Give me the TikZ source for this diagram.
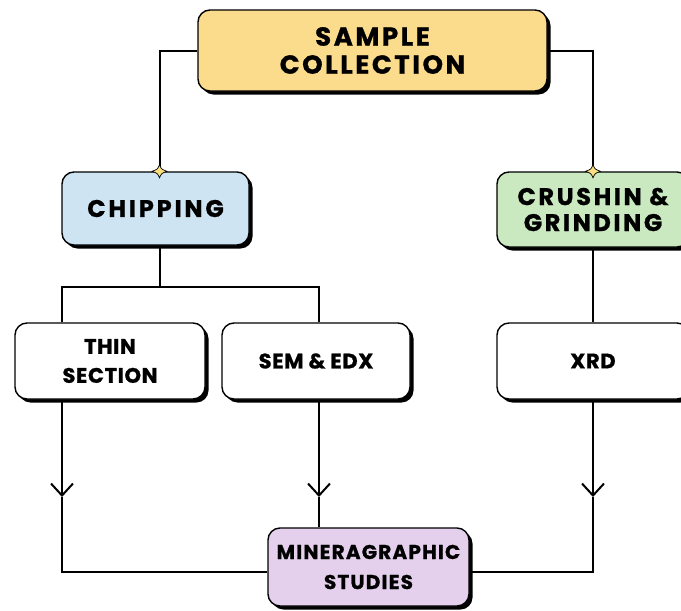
\documentclass[tikz,border=0pt]{standalone}
\usepackage{fontspec}
\setmainfont{Poppins}
\usetikzlibrary{shadows,arrows.meta}
\definecolor{cYellow}{RGB}{251,220,141}
\definecolor{cBlue}{RGB}{207,228,243}
\definecolor{cGreen}{RGB}{202,233,193}
\definecolor{cLav}{RGB}{228,208,236}
\definecolor{cStar}{RGB}{250,222,130}
\tikzset{
  boxbase/.style={draw=black, line width=1.4pt, rounded corners=12pt, align=center,
    inner sep=0pt,
    drop shadow={shadow xshift=3.5pt, shadow yshift=-3.5pt, opacity=1, fill=black}},
  bigtxt/.style={font=\fontsize{26}{28}\selectfont\bfseries\addfontfeature{LetterSpace=10,FakeBold=1}},
  midtxt/.style={font=\fontsize{24}{26}\selectfont\bfseries\addfontfeature{LetterSpace=12,FakeBold=1}},
  smalltxt/.style={font=\fontsize{21}{29}\selectfont\bfseries\addfontfeature{LetterSpace=3,FakeBold=1}},
  conn/.style={line width=2pt, draw=black},
  barb/.style={line width=2pt, -{Straight Barb[length=12pt, width=22pt, line width=2pt]}},
  pics/sparkle/.style={code={
    \draw[fill=cStar, line width=0.7pt] (0,-6.5) .. controls (2,-2) .. (7.5,0)
      .. controls (2,2) .. (0,6.5) .. controls (-2,2) .. (-7.5,0)
      .. controls (-2,-2) .. cycle;}}
}
\begin{document}
\begin{tikzpicture}[x=1pt,y=-1pt]
\clip (0,0) rectangle (681,611);
\fill[white] (0,0) rectangle (681,611);

\coordinate (split) at (160,287);
\coordinate (aL) at (62,497);
\coordinate (aM) at (319,497);
\coordinate (aR) at (593,497);

\node[boxbase, fill=cYellow, minimum width=349pt, minimum height=81pt, bigtxt] (top) at (372.5,50.5) {SAMPLE\\COLLECTION};
\node[boxbase, fill=cBlue, minimum width=187pt, minimum height=73pt, midtxt] (chip) at (155.5,208.5) {CHIPPING};
\node[boxbase, fill=cGreen, minimum width=192pt, minimum height=75pt, font=\fontsize{24}{26}\selectfont\bfseries\addfontfeature{LetterSpace=11,FakeBold=1}] (crush) at (593,209.5) {CRUSHIN \&\\GRINDING};
\node[boxbase, fill=white, minimum width=190pt, minimum height=76pt, smalltxt] (thin) at (110,361) {THIN\\SECTION};
\node[boxbase, fill=white, minimum width=188pt, minimum height=76pt, smalltxt] (sem) at (316,361) {SEM \& EDX};
\node[boxbase, fill=white, minimum width=192pt, minimum height=76pt, smalltxt] (xrd) at (593,361) {XRD};
\node[boxbase, fill=cLav, minimum width=201pt, minimum height=78pt, font=\fontsize{20}{30}\selectfont\bfseries\addfontfeature{LetterSpace=6,FakeBold=1}] (miner) at (368.5,567) {MINERAGRAPHIC\\STUDIES};

\draw[conn] (top.west) -| ([xshift=4.5pt]chip.north);
\draw[conn] (top.east) -| (crush.north);
\draw[conn] ([xshift=4.5pt]chip.south) -- (split);
\draw[conn] ([xshift=-48pt]thin.north) |- (split) -| ([xshift=3pt]sem.north);
\draw[conn] (crush.south) -- (xrd.north);

\draw[barb] ([xshift=-48pt]thin.south) -- (aL);
\draw[conn] (aL) |- ([yshift=-5pt]miner.west);
\draw[barb] ([xshift=3pt]sem.south) -- (aM);
\draw[conn] (aM) -- ([xshift=-49.5pt]miner.north);
\draw[barb] (xrd.south) -- (aR);
\draw[conn] (aR) |- ([yshift=-5pt]miner.east);

\pic at ([xshift=4pt]chip.north) {sparkle};
\pic at (crush.north) {sparkle};
\end{tikzpicture}
\end{document}
